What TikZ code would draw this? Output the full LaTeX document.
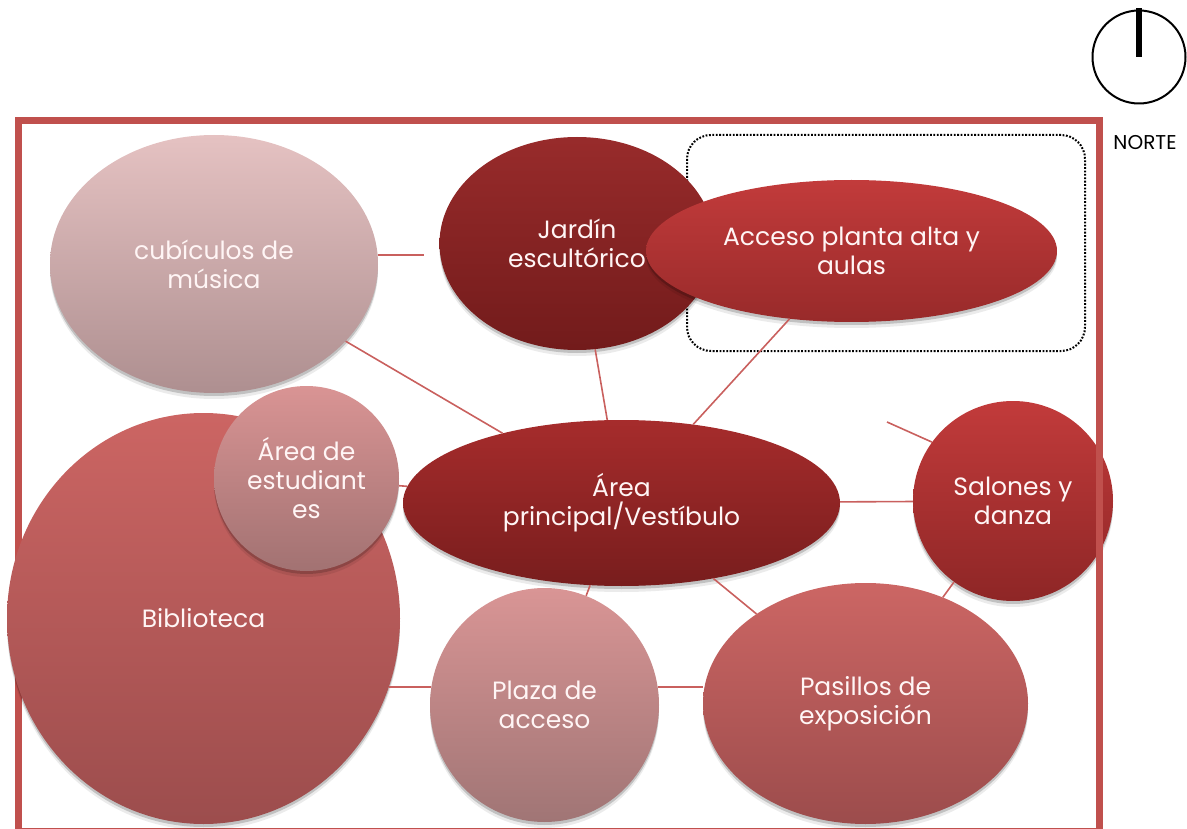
\documentclass[tikz,border=0pt]{standalone}
\usepackage{fontspec}
\setmainfont{Poppins}
\usetikzlibrary{shapes.geometric,shadows}
\definecolor{frameR}{HTML}{C0504D}
\definecolor{lineR}{HTML}{C9605E}
\tikzset{
  bub/.style={ellipse, inner sep=0pt, align=center, text=white!96!red,
    font=\fontsize{25}{29}\selectfont, shading=axis,
    drop shadow={shadow xshift=0pt, shadow yshift=-3pt, opacity=.18, fill=black},
    drop shadow={shadow xshift=0pt, shadow yshift=-6pt, opacity=.08, fill=black}},
  conn/.style={draw=lineR, line width=1.6pt},
  grpbox/.style={draw=black, line width=2pt, dash pattern=on 1.8pt off 1.6pt, rounded corners=24pt},
}
\begin{document}
\begin{tikzpicture}[x=1pt,y=1pt]
\useasboundingbox (0,0) rectangle (1187,-829);
% dotted group box
\node[grpbox, minimum width=398pt, minimum height=216pt, inner sep=0pt] (grp) at (886,-243) {};
% nodes
\node[bub, minimum width=328pt, minimum height=258pt, top color={rgb,255:red,229;green,194;blue,194}, bottom color={rgb,255:red,174;green,143;blue,144}] (cub) at (214,-264) {cubículos de\\música};
\node[bub, minimum width=275pt, minimum height=213pt, top color={rgb,255:red,152;green,43;blue,43}, bottom color={rgb,255:red,114;green,27;blue,27}] (jar) at (577,-243.5) {Jardín\\escultórico};
\node[bub, minimum width=411pt, minimum height=142pt, top color={rgb,255:red,194;green,59;blue,59}, bottom color={rgb,255:red,152;green,42;blue,42}] (acc) at (851.5,-251) {Acceso planta alta y\\aulas};
\node[bub, minimum width=200pt, minimum height=200pt, top color={rgb,255:red,194;green,59;blue,59}, bottom color={rgb,255:red,142;green,38;blue,38}] (sal) at (1013,-501) {Salones y\\danza};
% frame
\draw[frameR, line width=7pt] (18.5,-120.5) rectangle (1099.5,-831);
\node[bub, minimum width=437pt, minimum height=166pt, top color={rgb,255:red,166;green,44;blue,44}, bottom color={rgb,255:red,120;green,29;blue,29}] (main) at (621.5,-503) {Área\\principal/Vestíbulo};
\node[bub, minimum width=393pt, minimum height=411pt, top color={rgb,255:red,204;green,101;blue,99}, bottom color={rgb,255:red,156;green,77;blue,77}] (bib) at (203.5,-618.5) {Biblioteca};
\node[bub, minimum width=185pt, minimum height=185pt, top color={rgb,255:red,217;green,148;blue,148}, bottom color={rgb,255:red,162;green,114;blue,114}] (est) at (306.5,-478.5) {Área de\\estudiant\\es};
\node[bub, minimum width=229pt, minimum height=234pt, top color={rgb,255:red,217;green,149;blue,149}, bottom color={rgb,255:red,160;green,117;blue,117}] (pla) at (544.5,-705) {Plaza de\\acceso};
\node[bub, minimum width=325pt, minimum height=241pt, top color={rgb,255:red,204;green,102;blue,100}, bottom color={rgb,255:red,156;green,76;blue,76}] (pas) at (865.5,-703.5) {Pasillos de\\exposición};
% connectors
\coordinate (cubend) at (424,-255);
\coordinate (salstub) at (887,-422);
\draw[conn] (cub.east |- cubend) -- (cubend);
\draw[conn] (cub) -- (main);
\draw[conn] (jar) -- (main);
\draw[conn] (acc) -- (main);
\draw[conn] (main) -- (sal);
\draw[conn] (est) -- (main);
\draw[conn] (main) -- (pla);
\draw[conn] (main) -- (pas);
\draw[conn] (sal) -- (pas);
\draw[conn] (salstub) -- (sal.144);
\draw[conn] (pla.171) -- (bib.-20.5 |- pla.171);
\draw[conn] (pla.9) -- (pas.west |- pla.9);
% north symbol
\node[circle, draw=black, line width=2pt, minimum size=93pt, inner sep=0pt] (north) at (1139,-57) {};
\draw[black, line width=6.5pt] (north.north) ++(0,1pt) -- (north.center);
\node[font=\fontsize{20}{24}\selectfont, inner sep=0pt] (norte) at (1145,-143) {NORTE};
\end{tikzpicture}
\end{document}
